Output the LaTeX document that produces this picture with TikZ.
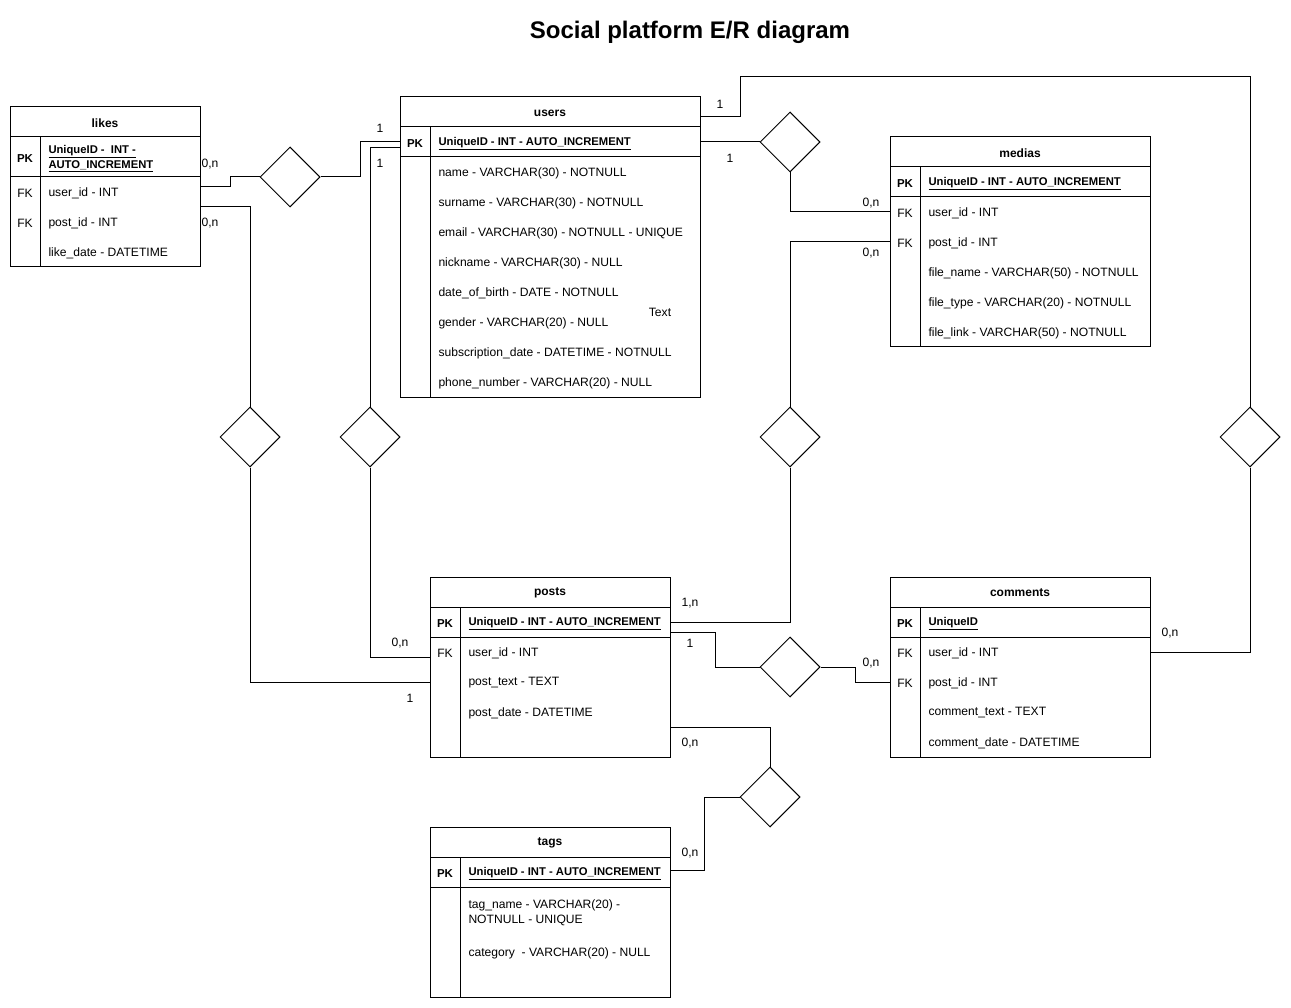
\documentclass[tikz,border=0pt]{standalone}
\usepackage{fontspec}
\setmainfont{Liberation Sans}
\usetikzlibrary{shapes.geometric}

\tikzset{
  every path/.style={line width=1pt},
  frame/.style={draw, line width=1pt, inner sep=0pt},
  hdr/.style={inner sep=0pt, minimum height=30pt, font=\fontsize{12}{14}\selectfont\bfseries},
  hdrtxt/.style={inner sep=0pt, yshift=-1pt, font=\fontsize{12}{14}\selectfont\bfseries},
  rowbox/.style={inner sep=0pt, minimum height=30pt},
  keytxt/.style={inner sep=0pt, yshift=-1pt, font=\fontsize{12.1}{14}\selectfont},
  pktxt/.style={inner sep=0pt, yshift=-1.5pt, font=\fontsize{11.5}{14}\selectfont\bfseries},
  fldtxt/.style={inner sep=0pt, yshift=-1pt, anchor=west, align=left, font=\fontsize{12.1}{15}\selectfont},
  pkfld/.style={inner sep=0pt, yshift=-2pt, anchor=west, align=left, font=\fontsize{11.25}{15}\selectfont\bfseries},
  card/.style={inner sep=0pt, font=\fontsize{12.1}{14}\selectfont},
  rel/.style={draw, diamond, aspect=1, inner sep=0pt, minimum width=60pt, minimum height=60pt},
  conn/.style={draw, line width=1pt},
}
% name, left x, width, y, key, text
\newcommand{\keyrow}[6]{%
  \node[rowbox, minimum width=#3pt] (#1) at ({#2+#3/2},#4) {};
  \node[keytxt] (#1-k) at ({#2+15},#4) {#5};
  \node[fldtxt] (#1-t) at ({#2+38},#4) {#6};}
\newcommand{\pkrow}[5]{%
  \node[rowbox, minimum width=#3pt] (#1) at ({#2+#3/2},#4) {};
  \node[pktxt] (#1-k) at ({#2+15},#4) {PK};
  \node[pkfld] (#1-t) at ({#2+38},#4) {#5};}
\newcommand{\plainrow}[5]{%
  \node[rowbox, minimum width=#3pt] (#1) at ({#2+#3/2},#4) {};
  \node[fldtxt] (#1-t) at ({#2+38},#4) {#5};}
% name, left x, width, y(centre), title
\newcommand{\hdrrow}[5]{%
  \node[hdr, minimum width=#3pt] (#1) at ({#2+#3/2},#4) {};
  \node[hdrtxt] (#1-t) at ({#2+#3/2},#4) {#5};}

\begin{document}
\begin{tikzpicture}[x=1pt, y=-1pt]
\useasboundingbox (0,0) rectangle (1291,1008);

\node[font=\fontsize{24}{28}\selectfont\bfseries, inner sep=0pt] (title) at (690,32) {Social platform E/R diagram};

% ---------- likes ----------
\node[frame, minimum width=190pt, minimum height=160pt] (likes) at (105,187) {};
\hdrrow{lk-h}{10}{190}{122}{likes}
\draw (10,137) -- (200,137) (10,177) -- (200,177) (40,137) -- (40,267);
\node[rowbox, minimum width=190pt, minimum height=40pt] (lk-pk) at (105,157) {};
\node[pktxt] (lk-pk-k) at (25,157) {PK};
\node[pkfld] (lk-pk-t) at (48,157) {\underline{UniqueID -\ \ INT -}\\\underline{AUTO\_INCREMENT}};
\keyrow{lk-u}{10}{190}{192}{FK}{user\_id - INT}
\keyrow{lk-p}{10}{190}{222}{FK}{post\_id - INT}
\plainrow{lk-d}{10}{190}{252}{like\_date - DATETIME}

% ---------- users ----------
\node[frame, minimum width=300pt, minimum height=300pt] (users) at (550,247) {};
\hdrrow{us-h}{400}{300}{112}{users}
\draw (400,127) -- (700,127) (400,157) -- (700,157) (430,127) -- (430,397);
\pkrow{us-pk}{400}{300}{142}{\underline{UniqueID - INT - AUTO\_INCREMENT}}
\plainrow{us-1}{400}{300}{172}{name - VARCHAR(30) - NOTNULL}
\plainrow{us-2}{400}{300}{202}{surname - VARCHAR(30) - NOTNULL}
\plainrow{us-3}{400}{300}{232}{email - VARCHAR(30) - NOTNULL - UNIQUE}
\plainrow{us-4}{400}{300}{262}{nickname - VARCHAR(30) - NULL}
\plainrow{us-5}{400}{300}{292}{date\_of\_birth - DATE - NOTNULL}
\plainrow{us-6}{400}{300}{322}{gender - VARCHAR(20) - NULL}
\plainrow{us-7}{400}{300}{352}{subscription\_date - DATETIME - NOTNULL}
\plainrow{us-8}{400}{300}{382}{phone\_number - VARCHAR(20) - NULL}
\node[card] (txt) at (660,312) {Text};

% ---------- medias ----------
\node[frame, minimum width=260pt, minimum height=210pt] (medias) at (1020,242) {};
\hdrrow{md-h}{890}{260}{152}{medias}
\draw (890,167) -- (1150,167) (890,197) -- (1150,197) (920,167) -- (920,347);
\pkrow{md-pk}{890}{260}{182}{\underline{UniqueID - INT - AUTO\_INCREMENT}}
\keyrow{md-u}{890}{260}{212}{FK}{user\_id - INT}
\keyrow{md-p}{890}{260}{242}{FK}{post\_id - INT}
\plainrow{md-1}{890}{260}{272}{file\_name - VARCHAR(50) - NOTNULL}
\plainrow{md-2}{890}{260}{302}{file\_type - VARCHAR(20) - NOTNULL}
\plainrow{md-3}{890}{260}{332}{file\_link - VARCHAR(50) - NOTNULL}

% ---------- posts ----------
\node[frame, minimum width=240pt, minimum height=180pt] (posts) at (550,667) {};
\hdrrow{ps-h}{430}{240}{592}{posts}
\draw (430,607) -- (670,607) (430,637) -- (670,637) (460,607) -- (460,757);
\pkrow{ps-pk}{430}{240}{622}{\underline{UniqueID - INT - AUTO\_INCREMENT}}
\keyrow{ps-u}{430}{240}{652}{FK}{user\_id - INT}
\plainrow{ps-t}{430}{240}{682}{post\_text - TEXT}
\plainrow{ps-d}{430}{240}{712}{post\_date - DATETIME}

% ---------- comments ----------
\node[frame, minimum width=260pt, minimum height=180pt] (comments) at (1020,667) {};
\hdrrow{cm-h}{890}{260}{592}{comments}
\draw (890,607) -- (1150,607) (890,637) -- (1150,637) (920,607) -- (920,757);
\pkrow{cm-pk}{890}{260}{622}{\underline{UniqueID}}
\keyrow{cm-u}{890}{260}{652}{FK}{user\_id - INT}
\keyrow{cm-p}{890}{260}{682}{FK}{post\_id - INT}
\plainrow{cm-1}{890}{260}{712}{comment\_text - TEXT}
\plainrow{cm-2}{890}{260}{742}{comment\_date - DATETIME}

% ---------- tags ----------
\node[frame, minimum width=240pt, minimum height=170pt] (tags) at (550,912) {};
\hdrrow{tg-h}{430}{240}{842}{tags}
\draw (430,857) -- (670,857) (430,887) -- (670,887) (460,857) -- (460,997);
\pkrow{tg-pk}{430}{240}{872}{\underline{UniqueID - INT - AUTO\_INCREMENT}}
\plainrow{tg-1}{430}{240}{912}{tag\_name - VARCHAR(20) -\\NOTNULL - UNIQUE}
\plainrow{tg-2}{430}{240}{952}{category\ \ - VARCHAR(20) - NULL}

% ---------- relationships ----------
\node[rel] (d1) at (290,177) {};
\node[rel] (d2) at (790,142) {};
\node[rel] (d3) at (250,437) {};
\node[rel] (d4) at (370,437) {};
\node[rel] (d5) at (790,437) {};
\node[rel] (d6) at (1250,437) {};
\node[rel] (d7) at (790,667) {};
\node[rel] (d8) at (770,797) {};

% ---------- connectors ----------
\draw[conn] ([yshift=5pt]lk-u.east) -- ++(30,0) |- (d1.west);
\draw[conn] (d1.east) -- ++(40,0) |- (us-pk.west);
\draw[conn] ([yshift=-6pt]us-pk.west) -| (d4.north);
\draw[conn] (d4.south) |- ([yshift=-5pt]ps-u.west);
\draw[conn] ([yshift=15pt]lk-p.east) -| (d3.north);
\draw[conn] (d3.south) |- (ps-t.west);
\draw[conn] ([yshift=-5pt]us-h.east) -- ++(40,0) -- ++(0,-40) -| (d6.north);
\draw[conn] (us-pk.east) -- (d2.west);
\draw[conn] (d2.south) |- (md-u.west);
\draw[conn] (md-p.west) -| (d5.north);
\draw[conn] (d5.south) |- (ps-pk.east);
\draw[conn] ([yshift=-10pt]ps-pk.east) -- ++(45,0) |- (d7.west);
\draw[conn] (d7.east) -- ++(35,0) |- (cm-p.west);
\draw[conn] (d6.south) |- (cm-u.east);
\draw[conn] ([yshift=-15pt]ps-d.east) -| (d8.north);
\draw[conn] (d8.west) -- ++(-35,0) |- ([yshift=2pt]tg-pk.east);

% ---------- cardinalities ----------
\node[card] (c1) at (210,164) {0,n};
\node[card] (c2) at (210,223) {0,n};
\node[card] (c3) at (380,128) {1};
\node[card] (c4) at (380,163) {1};
\node[card] (c5) at (720,104) {1};
\node[card] (c6) at (730,158) {1};
\node[card] (c7) at (871,203) {0,n};
\node[card] (c8) at (871,253) {0,n};
\node[card] (c9) at (690,603) {1,n};
\node[card] (c10) at (690,643) {1};
\node[card] (c11) at (400,643) {0,n};
\node[card] (c12) at (410,698) {1};
\node[card] (c13) at (871,663) {0,n};
\node[card] (c14) at (1170,633) {0,n};
\node[card] (c15) at (690,743) {0,n};
\node[card] (c16) at (690,853) {0,n};
\end{tikzpicture}
\end{document}
